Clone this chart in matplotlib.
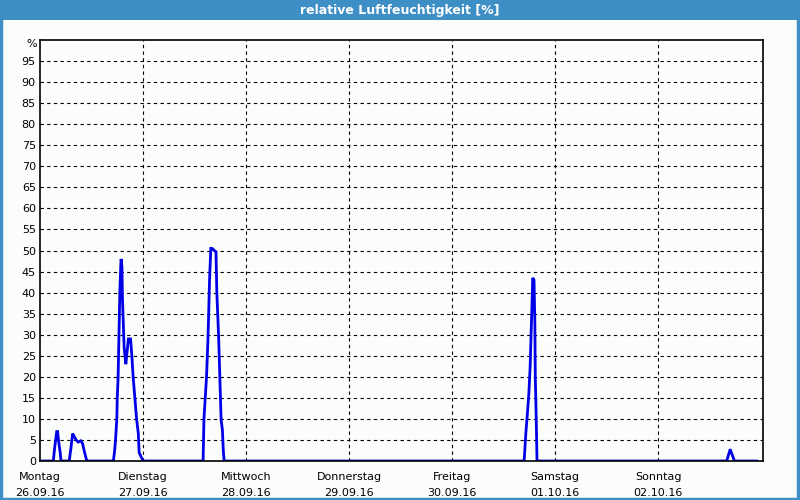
import matplotlib.pyplot as plt
from matplotlib.patches import Rectangle

# hours since Monday 26.09.16 00:00 and relative humidity [%]
hours = [0, 3.1, 3.4, 3.9, 4.1, 4.3, 4.7, 4.9,
         6.8, 7.2, 7.6, 7.9, 8.4, 8.9, 9.5, 9.9, 10.4, 10.9,
         17.1, 17.4, 17.6, 17.9, 18.0, 18.2, 18.4, 18.6, 18.8, 18.9, 19.1, 19.2,
         19.4, 19.6, 20.0, 20.3, 20.6, 21.1, 21.4, 21.7, 22.1, 22.5, 22.9, 23.1,
         23.7, 24.1,
         38.0, 38.1, 38.2, 38.5, 38.8, 39.1, 39.3, 39.5, 39.8, 40.1, 40.6, 41.0,
         41.2, 41.6, 41.9, 42.2, 42.5, 42.7, 42.9,
         112.8, 113.2, 113.5, 113.9, 114.2, 114.4, 114.6, 114.8, 115.1, 115.3,
         115.4, 115.6, 115.8,
         160.0, 160.8, 161.8, 167.0]
humidity = [0, 0, 3, 7, 7, 5, 2, 0,
            0, 3, 6.5, 6, 5, 4.5, 4.8, 4.2, 2, 0,
            0, 2.6, 5, 10, 15, 20, 30, 40, 46, 48, 46, 39,
            33, 27, 23, 26, 29, 29, 25, 20, 15, 10, 6.6, 2,
            0.7, 0,
            0, 5, 10, 15, 20, 28, 35, 43, 50.5, 50.5, 50, 49.7,
            40, 30, 20, 9.7, 7.4, 2.6, 0,
            0, 6.6, 10.5, 16, 22.4, 29.5, 36, 43.5, 43, 32.8,
            20, 11, 0,
            0, 2.8, 0, 0]

days = ['Montag', 'Dienstag', 'Mittwoch', 'Donnerstag', 'Freitag', 'Samstag', 'Sonntag']
dates = ['26.09.16', '27.09.16', '28.09.16', '29.09.16', '30.09.16', '01.10.16', '02.10.16']
yticks = list(range(0, 100, 5))

fig = plt.figure(figsize=(8, 5), dpi=100, facecolor='#fbfdfb')

# title bar and frame
fig.patches.append(Rectangle((0, 0.96), 1, 0.04, transform=fig.transFigure,
                             facecolor='#3d8fc6', edgecolor='none', zorder=0))
fig.patches.append(Rectangle((0.001, 0.002), 0.997, 0.996, transform=fig.transFigure,
                             facecolor='none', edgecolor='#3d8fc6', lw=2.5, zorder=1))
fig.text(0.5, 0.979, 'relative Luftfeuchtigkeit [%]', color='white', fontsize=9,
         fontweight='bold', ha='center', va='center')

ax = fig.add_axes([0.05, 0.078, 0.904, 0.842])
ax.set_facecolor('#fbfdfb')
ax.plot(hours, humidity, color='#0000e6', lw=2, solid_joinstyle='miter')

ax.set_xlim(0, 168.5)
ax.set_ylim(0, 100)
ax.set_yticks(yticks)
ax.set_yticklabels([str(v) for v in yticks], fontsize=8)
ax.set_xticks([24 * i for i in range(len(days))])
ax.set_xticklabels([f'{d}\n{t}' for d, t in zip(days, dates)], fontsize=8,
                   linespacing=1.75)
ax.tick_params(axis='y', length=0, pad=3)
ax.tick_params(axis='x', length=0, pad=8)
ax.text(-0.004, 0.99, '%', transform=ax.transAxes, ha='right', va='center', fontsize=8)

for v in yticks[1:]:
    ax.axhline(v, color='black', lw=0.8, ls=(0, (3, 3)), zorder=0)
for i in range(1, len(days)):
    ax.axvline(24 * i, color='black', lw=0.8, ls=(0, (3, 3)), zorder=0)
for s in ax.spines.values():
    s.set_linewidth(1.2)

fig.savefig('out.png', dpi=100, facecolor=fig.get_facecolor())
